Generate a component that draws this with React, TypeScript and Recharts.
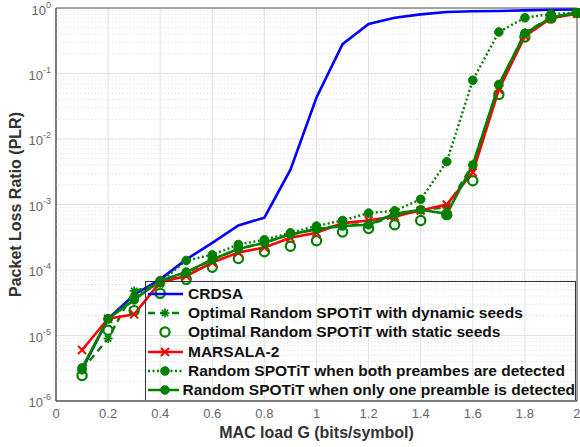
import { LineChart, Line, XAxis, YAxis, CartesianGrid, ReferenceLine, ReferenceArea, Label } from 'recharts'

// MAC load G (bits/symbol)
const LOAD = [0.1, 0.2, 0.3, 0.4, 0.5, 0.6, 0.7, 0.8, 0.9, 1.0, 1.1, 1.2, 1.3, 1.4, 1.5, 1.6, 1.7, 1.8, 1.9, 2.0]

const CRDSA = [3e-6, 1.8e-5, 4.2e-5, 7.2e-5, 1.45e-4, 2.6e-4, 4.8e-4, 6.3e-4, 3.4e-3, 4.3e-2, 0.28, 0.57, 0.71, 0.8, 0.87, 0.89, 0.9, 0.92, 0.94, 0.95]
const DYNAMIC = [3e-6, 9e-6, 4.8e-5, 6e-5, 9e-5, 1.45e-4, 2.1e-4, 2.6e-4, 3.5e-4, 4.2e-4, 4.9e-4, 5e-4, 6.5e-4, 8.3e-4, 9e-4, 4.1e-3, 0.065, 0.42, 0.72, 0.85]
const STATIC = [2.45e-6, 1.2e-5, 2.4e-5, 4.4e-5, 7.2e-5, 1.1e-4, 1.5e-4, 1.9e-4, 2.3e-4, 2.8e-4, 3.8e-4, 4.3e-4, 4.9e-4, 5.7e-4, 7e-4, 2.3e-3, 0.048, 0.36, 0.7, 0.85]
const MARSALA = [6e-6, 1.8e-5, 2.1e-5, 6.5e-5, 8.1e-5, 1.3e-4, 1.85e-4, 2.2e-4, 3.1e-4, 3.7e-4, 5.2e-4, 5.7e-4, 6.6e-4, 8.1e-4, 1e-3, 3.1e-3, 0.057, 0.37, 0.7, 0.82]
const BOTH = [3e-6, 1.8e-5, 3.8e-5, 6.5e-5, 1.4e-4, 1.7e-4, 2.45e-4, 2.9e-4, 3.7e-4, 4.7e-4, 5.7e-4, 7.4e-4, 8e-4, 1.2e-3, 4.5e-3, 0.079, 0.43, 0.71, 0.81, 0.85]
const ONE = [3.2e-6, 1.8e-5, 3.5e-5, 6.9e-5, 9.3e-5, 1.45e-4, 2.1e-4, 2.6e-4, 3.5e-4, 4.2e-4, 4.7e-4, 4.9e-4, 7.2e-4, 8.3e-4, 7.2e-4, 4e-3, 0.068, 0.41, 0.71, 0.85]

const X_TICKS = [0, 0.2, 0.4, 0.6, 0.8, 1, 1.2, 1.4, 1.6, 1.8, 2]
const Y_TICKS = [1e-6, 1e-5, 1e-4, 1e-3, 1e-2, 1e-1, 1]
const MANTISSAS = [2, 3, 4, 5, 6, 7, 8, 9]

const LEGEND_LABELS = [
  'CRDSA',
  'Optimal Random SPOTiT with dynamic seeds',
  'Optimal Random SPOTiT with static seeds',
  'MARSALA-2',
  'Random SPOTiT when both preambes are detected',
  'Random SPOTiT when only one preamble is detected',
]

const BLUE = '#0000ff'
const RED = '#ff0000'
const GREEN = '#008000'
const FONT = '"Liberation Sans", Arial, sans-serif'

const data = LOAD.map((g, i) => ({
  g,
  crdsa: CRDSA[i],
  dynamic: DYNAMIC[i],
  static: STATIC[i],
  marsala: MARSALA[i],
  both: BOTH[i],
  one: ONE[i],
}))

// minor log grid lines (2..9 x each decade)
const minorTicks = Y_TICKS.slice(0, -1).flatMap((d) => MANTISSAS.map((m) => m * d))

function Star({ cx, cy, r = 4.5 }: { cx: number; cy: number; r?: number }) {
  const d = r * 0.7
  return (
    <g stroke={GREEN} strokeWidth={1.7}>
      <line x1={cx - r} y1={cy} x2={cx + r} y2={cy} />
      <line x1={cx} y1={cy - r} x2={cx} y2={cy + r} />
      <line x1={cx - d} y1={cy - d} x2={cx + d} y2={cy + d} />
      <line x1={cx - d} y1={cy + d} x2={cx + d} y2={cy - d} />
    </g>
  )
}

function Cross({ cx, cy, r = 4 }: { cx: number; cy: number; r?: number }) {
  return (
    <g stroke={RED} strokeWidth={1.9}>
      <line x1={cx - r} y1={cy - r} x2={cx + r} y2={cy + r} />
      <line x1={cx - r} y1={cy + r} x2={cx + r} y2={cy - r} />
    </g>
  )
}

function Ring({ cx, cy }: { cx: number; cy: number }) {
  return <circle cx={cx} cy={cy} r={4.6} fill="none" stroke={GREEN} strokeWidth={2.2} />
}

function Dot({ cx, cy }: { cx: number; cy: number }) {
  return <circle cx={cx} cy={cy} r={4.3} fill={GREEN} stroke={GREEN} />
}

const dotOf = (Shape: any) => (p: any) => <Shape key={p.index} cx={p.cx} cy={p.cy} />

function LogTick({ x, y, payload }: any) {
  const exp = Math.round(Math.log10(payload.value))
  return (
    <text x={x} y={y} textAnchor="end" fill="#666" fontSize={13} fontFamily={FONT}>
      <tspan dy={6}>10</tspan>
      <tspan dy={-7} fontSize={9}>{exp}</tspan>
    </text>
  )
}

function LegendSample({ i }: { i: number }) {
  const y = 7
  const line = (stroke: string, dash?: string) => (
    <line x1={0} y1={y} x2={35} y2={y} stroke={stroke} strokeWidth={2.4} strokeDasharray={dash} />
  )
  return (
    <svg width={36} height={14} style={{ display: 'block' }}>
      {i === 0 && line(BLUE)}
      {i === 1 && (
        <>
          {line(GREEN, '7 5')}
          <Star cx={17} cy={y} />
        </>
      )}
      {i === 2 && <Ring cx={17} cy={y} />}
      {i === 3 && (
        <>
          {line(RED)}
          <Cross cx={17} cy={y} />
        </>
      )}
      {i === 4 && (
        <>
          {line(GREEN, '2 2.5')}
          <Dot cx={17} cy={y} />
        </>
      )}
      {i === 5 && (
        <>
          {line(GREEN)}
          <Dot cx={17} cy={y} />
        </>
      )}
    </svg>
  )
}

export default function App() {
  return (
    <div style={{ position: 'absolute', left: 0, top: 0, width: 580, height: 447, background: '#fff' }}>
      <LineChart width={580} height={447} data={data} margin={{ top: 8, right: 3, left: 0, bottom: 0 }}>
        <CartesianGrid stroke="#e2e2e2" />
        {minorTicks.map((v) => (
          <ReferenceLine key={v} y={v} stroke="#e4e4e4" strokeDasharray="1.5 2" ifOverflow="hidden" />
        ))}
        <ReferenceArea x1={0} x2={2} y1={1e-6} y2={1} fill="none" stroke="#555" strokeWidth={1} />
        <XAxis
          dataKey="g"
          type="number"
          domain={[0, 2]}
          ticks={X_TICKS}
          height={46}
          tickSize={0}
          tickMargin={8}
          tick={{ fill: '#666', fontSize: 13, fontFamily: FONT }}
          axisLine={{ stroke: '#555' }}
        >
          <Label
            value="MAC load G (bits/symbol)"
            position="insideBottom"
            offset={9}
            style={{ fill: '#333', fontSize: 16, fontWeight: 'bold', fontFamily: FONT }}
          />
        </XAxis>
        <YAxis
          scale="log"
          domain={[1e-6, 1]}
          ticks={Y_TICKS}
          allowDataOverflow
          width={56}
          tickSize={0}
          tickMargin={5}
          tick={<LogTick />}
          axisLine={{ stroke: '#555' }}
        >
          <Label
            value="Packet Loss Ratio (PLR)"
            angle={-90}
            position="insideLeft"
            offset={15}
            style={{ fill: '#333', fontSize: 16, fontWeight: 'bold', fontFamily: FONT, textAnchor: 'middle' }}
          />
        </YAxis>
        <Line dataKey="crdsa" stroke={BLUE} strokeWidth={2.6} dot={false} isAnimationActive={false} />
        <Line dataKey="dynamic" stroke={GREEN} strokeWidth={2.4} strokeDasharray="7 5" dot={dotOf(Star)} isAnimationActive={false} />
        <Line dataKey="static" stroke="none" strokeWidth={0} dot={dotOf(Ring)} isAnimationActive={false} />
        <Line dataKey="marsala" stroke={RED} strokeWidth={2.6} dot={dotOf(Cross)} isAnimationActive={false} />
        <Line dataKey="both" stroke={GREEN} strokeWidth={2.4} strokeDasharray="2 2.5" dot={dotOf(Dot)} isAnimationActive={false} />
        <Line dataKey="one" stroke={GREEN} strokeWidth={2.6} dot={dotOf(Dot)} isAnimationActive={false} />
      </LineChart>
      <div
        style={{
          position: 'absolute',
          left: 145,
          top: 281,
          width: 431,
          height: 119,
          border: '1px solid #333',
          borderBottom: 'none',
          boxSizing: 'border-box',
          paddingTop: 2,
          fontFamily: FONT,
          fontWeight: 'bold',
          fontSize: 15.5,
          color: '#111',
        }}
      >
        {LEGEND_LABELS.map((label, i) => (
          <div key={label} style={{ display: 'flex', alignItems: 'center', height: 19.3, paddingLeft: 2 }}>
            <LegendSample i={i} />
            <span style={{ marginLeft: 4, whiteSpace: 'nowrap' }}>{label}</span>
          </div>
        ))}
      </div>
    </div>
  )
}
